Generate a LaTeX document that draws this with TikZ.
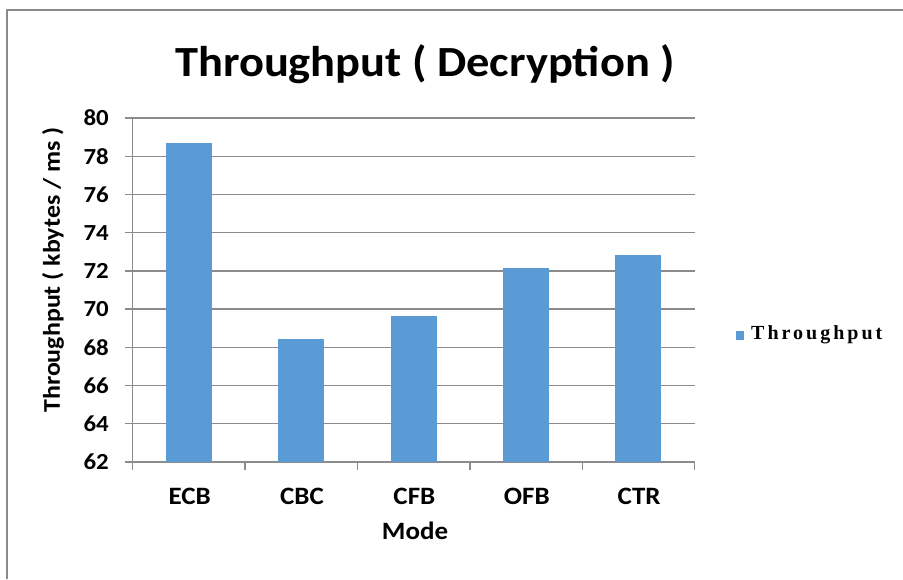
\documentclass[tikz,border=0pt]{standalone}
\usepackage{fontspec}
\setmainfont{Carlito}[FakeStretch=1.08]
\newfontfamily\legendfont[LetterSpace=15]{Liberation Serif}
\usepackage{tikz}
\definecolor{barblue}{HTML}{5B9BD5}
\definecolor{gridgray}{HTML}{8C8C8C}
\definecolor{framegray}{HTML}{8A8A8A}

\begin{document}
\begin{tikzpicture}
  [x = 1pt, y = -1pt,
   grid/.style = {draw = gridgray, line width = 1.4pt},
   bar/.style = {fill = barblue, draw = none},
   ticklabel/.style = {anchor = east, inner sep = 0pt, font = \bfseries\fontsize{23}{23}\selectfont},
   catlabel/.style = {inner sep = 0pt, font = \bfseries\fontsize{25}{25}\selectfont}]
  \useasboundingbox[fill = white] (0,0) rectangle (903,579);
  % frame
  \draw[framegray, line width = 2pt] (6.5,579) -- (6.5,10) -- (903,10);
  % title
  \node[font = \bfseries\fontsize{43}{43}\selectfont] (title) at (425,64) {Throughput ( Decryption )};
  % gridlines and y ticks
  \foreach \v in {62,64,...,80}{
    \draw[grid] (125,{118+19.1*(80-\v)}) -- (695,{118+19.1*(80-\v)});
    \node[ticklabel] (y\v) at (109,{118+19.1*(80-\v)}) {\v};
  }
  % bars
  \foreach \m/\val [count = \k from 0] in {ECB/78.7, CBC/68.45, CFB/69.65, OFB/72.15, CTR/72.85}{
    \fill[barblue] ({188.8+112.4*\k-23},461.8) rectangle ({188.8+112.4*\k+23},{118+19.1*(80-\val)});
    \node[catlabel] (c\m) at ({189.6+112.4*\k},496) {\m};
  }
  % axes
  \draw[grid] (132.7,118) -- (132.7,461.8);
  \foreach \k in {0,1,...,5}{
    \draw[grid] ({132.6+112.4*\k},461.8) -- ({132.6+112.4*\k},470);
  }
  \node[catlabel] (xtitle) at (415,531) {Mode};
  \node[catlabel, rotate = 90, font = \bfseries\fontsize{24}{24}\selectfont] (ytitle) at (53,270) {Throughput ( kbytes / ms )};
  % legend
  \fill[barblue] (735.5,331) rectangle (744,339.5);
  \node[anchor = west, inner sep = 0pt, font = \legendfont\bfseries\fontsize{20}{20}\selectfont] (legend) at (751,335) {Throughput};
\end{tikzpicture}
\end{document}
